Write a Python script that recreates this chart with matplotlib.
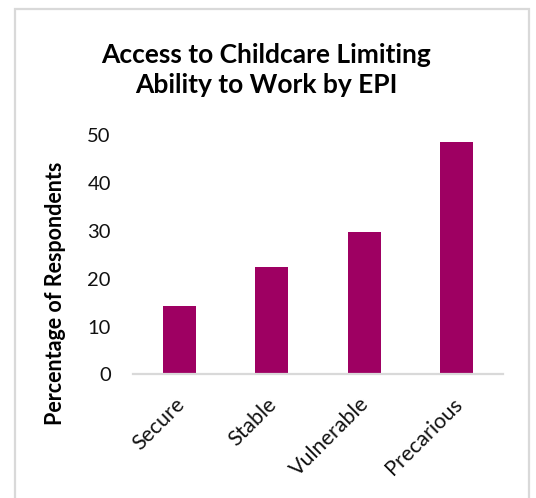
import matplotlib
matplotlib.use("Agg")
import matplotlib.pyplot as plt
import matplotlib.transforms as mtransforms
from matplotlib.patches import Rectangle

categories = ["Secure", "Stable", "Vulnerable", "Precarious"]
values = [14.3, 22.4, 29.8, 48.5]
yticks = [0, 10, 20, 30, 40, 50]

bar_color = "#9E0062"
grid_gray = "#D9D9D9"
font = ["Lato", "DejaVu Sans"]

W, H = 536, 498
fig = plt.figure(figsize=(W / 100, H / 100), dpi=100)
fig.patch.set_facecolor("white")

# chart-area border
fig.patches.append(Rectangle((15 / W, -0.01), (529 - 15) / W, (H - 9) / H + 0.01,
                             transform=fig.transFigure, fill=False,
                             edgecolor=grid_gray, linewidth=1.6))

ax = fig.add_axes([133 / W, (H - 374.3) / H, (503 - 133) / W, (374.3 - 135.3) / H])
x = list(range(len(categories)))
ax.bar(x, values, width=0.354, color=bar_color, zorder=2)
ax.set_xlim(-0.5, len(categories) - 0.5)
ax.set_ylim(0, 50)
ax.set_yticks(yticks)
ax.set_yticklabels([str(t) for t in yticks], fontsize=14.5, family=font, color="#111111")
ax.set_xticks(x)
ax.set_xticklabels(categories, rotation=45, ha="right", rotation_mode="anchor",
                   fontsize=15.5, family=font, color="#111111")
ax.tick_params(axis="both", length=0)
ax.tick_params(axis="y", pad=16)
ax.tick_params(axis="x", pad=14)
for s in ["top", "right", "left"]:
    ax.spines[s].set_visible(False)
ax.spines["bottom"].set_color(grid_gray)
ax.spines["bottom"].set_linewidth(1.6)

# nudge category labels so their upper end sits just right of each bar centre
offset = mtransforms.ScaledTranslation(-5 / 100, 0, fig.dpi_scale_trans)
for lbl in ax.get_xticklabels():
    lbl.set_transform(lbl.get_transform() + offset)

fig.text(266 / W, 1 - 70 / H, "Access to Childcare Limiting\nAbility to Work by EPI",
         ha="center", va="center", fontsize=19, fontweight="bold", family=font,
         linespacing=1.3, color="black")
fig.text(55 / W, 1 - 293 / H, "Percentage of Respondents", rotation=90,
         ha="center", va="center", fontsize=15.5, fontweight="bold", family=font,
         color="black")

fig.savefig("out.png", dpi=100, facecolor="white")
